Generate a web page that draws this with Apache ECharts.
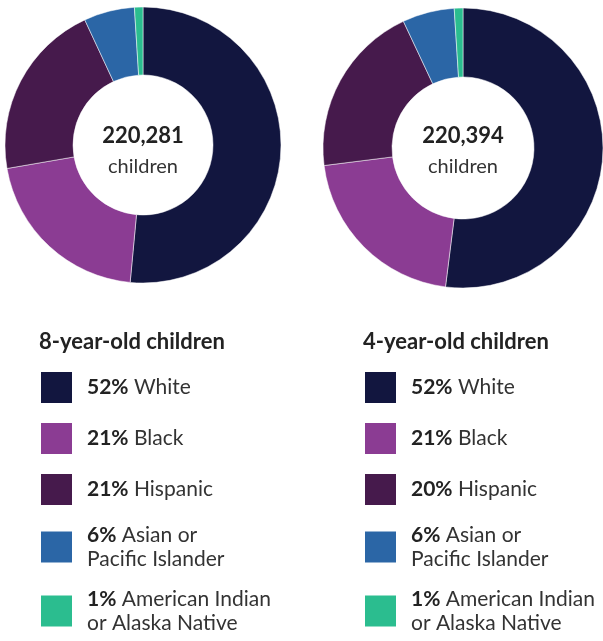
<!DOCTYPE html>
<html>
<head>
<meta charset="utf-8">
<script src="https://cdn.jsdelivr.net/npm/echarts@6/dist/echarts.min.js"></script>
<style>
  html, body { margin: 0; padding: 0; background: #fff; }
  #chart { width: 603px; height: 641px; }
</style>
</head>
<body>
<div id="chart"></div>
<script>
// categories and values (percent)
const groups = ['White', 'Black', 'Hispanic', 'Asian or Pacific Islander', 'American Indian or Alaska Native'];
const legendLabels = ['White', 'Black', 'Hispanic', 'Asian or\nPacific Islander', 'American Indian\nor Alaska Native'];
const colors = ['#12163f', '#8b3c93', '#461a4c', '#2b66a6', '#2bbd8f'];

const eightYearOld = [52, 21, 21, 6, 1];
const fourYearOld = [52, 21, 20, 6, 1];

const totals = ['220,281', '220,394'];
const headers = ['8-year-old children', '4-year-old children'];

const FONT = 'Lato, "Noto Sans", sans-serif';

const chart = echarts.init(document.getElementById('chart'));

function pieData(values) {
  return groups.map((g, i) => ({ name: g, value: values[i], itemStyle: { color: colors[i] } }));
}

function legendFor(values, left) {
  return {
    orient: 'vertical',
    left: left,
    top: 370,
    height: 300,
    padding: 0,
    itemWidth: 33,
    itemHeight: 33,
    itemGap: 16,
    icon: 'rect',
    selectedMode: false,
    data: groups,
    formatter: (name) => {
      const i = groups.indexOf(name);
      return '{b|' + values[i] + '%} ' + legendLabels[i];
    },
    textStyle: {
      fontFamily: FONT,
      fontSize: 21,
      lineHeight: 24,
      color: '#333',
      padding: [0, 0, 0, 9],
      rich: {
        b: { fontFamily: FONT, fontSize: 21, lineHeight: 24, fontWeight: 'bold', color: '#222' }
      }
    }
  };
}

function centerText(x, y, total) {
  return [
    {
      type: 'text', x: x, y: y - 13,
      style: { text: total, font: 'bold 22px ' + FONT, fill: '#222', textAlign: 'center', textVerticalAlign: 'middle' }
    },
    {
      type: 'text', x: x, y: y + 18,
      style: { text: 'children', font: '20px ' + FONT, fill: '#333', textAlign: 'center', textVerticalAlign: 'middle' }
    }
  ];
}

const option = {
  animation: false,
  legend: [legendFor(eightYearOld, 39), legendFor(fourYearOld, 363)],
  graphic: [
    ...centerText(143, 149, totals[0]),
    ...centerText(463, 149, totals[1]),
    {
      type: 'text', x: 39, y: 342,
      style: { text: headers[0], font: 'bold 22px ' + FONT, fill: '#222', textVerticalAlign: 'middle' }
    },
    {
      type: 'text', x: 363, y: 342,
      style: { text: headers[1], font: 'bold 22px ' + FONT, fill: '#222', textVerticalAlign: 'middle' }
    }
  ],
  series: [
    {
      name: headers[0],
      type: 'pie',
      center: [143, 145],
      radius: [70, 138],
      startAngle: 90,
      clockwise: true,
      label: { show: false },
      labelLine: { show: false },
      emphasis: { disabled: true },
      itemStyle: { borderColor: '#fff', borderWidth: 0.5 },
      data: pieData(eightYearOld)
    },
    {
      name: headers[1],
      type: 'pie',
      center: [463, 148],
      radius: [71, 140],
      startAngle: 90,
      clockwise: true,
      label: { show: false },
      labelLine: { show: false },
      emphasis: { disabled: true },
      itemStyle: { borderColor: '#fff', borderWidth: 0.5 },
      data: pieData(fourYearOld)
    }
  ]
};

chart.setOption(option);
</script>
</body>
</html>
